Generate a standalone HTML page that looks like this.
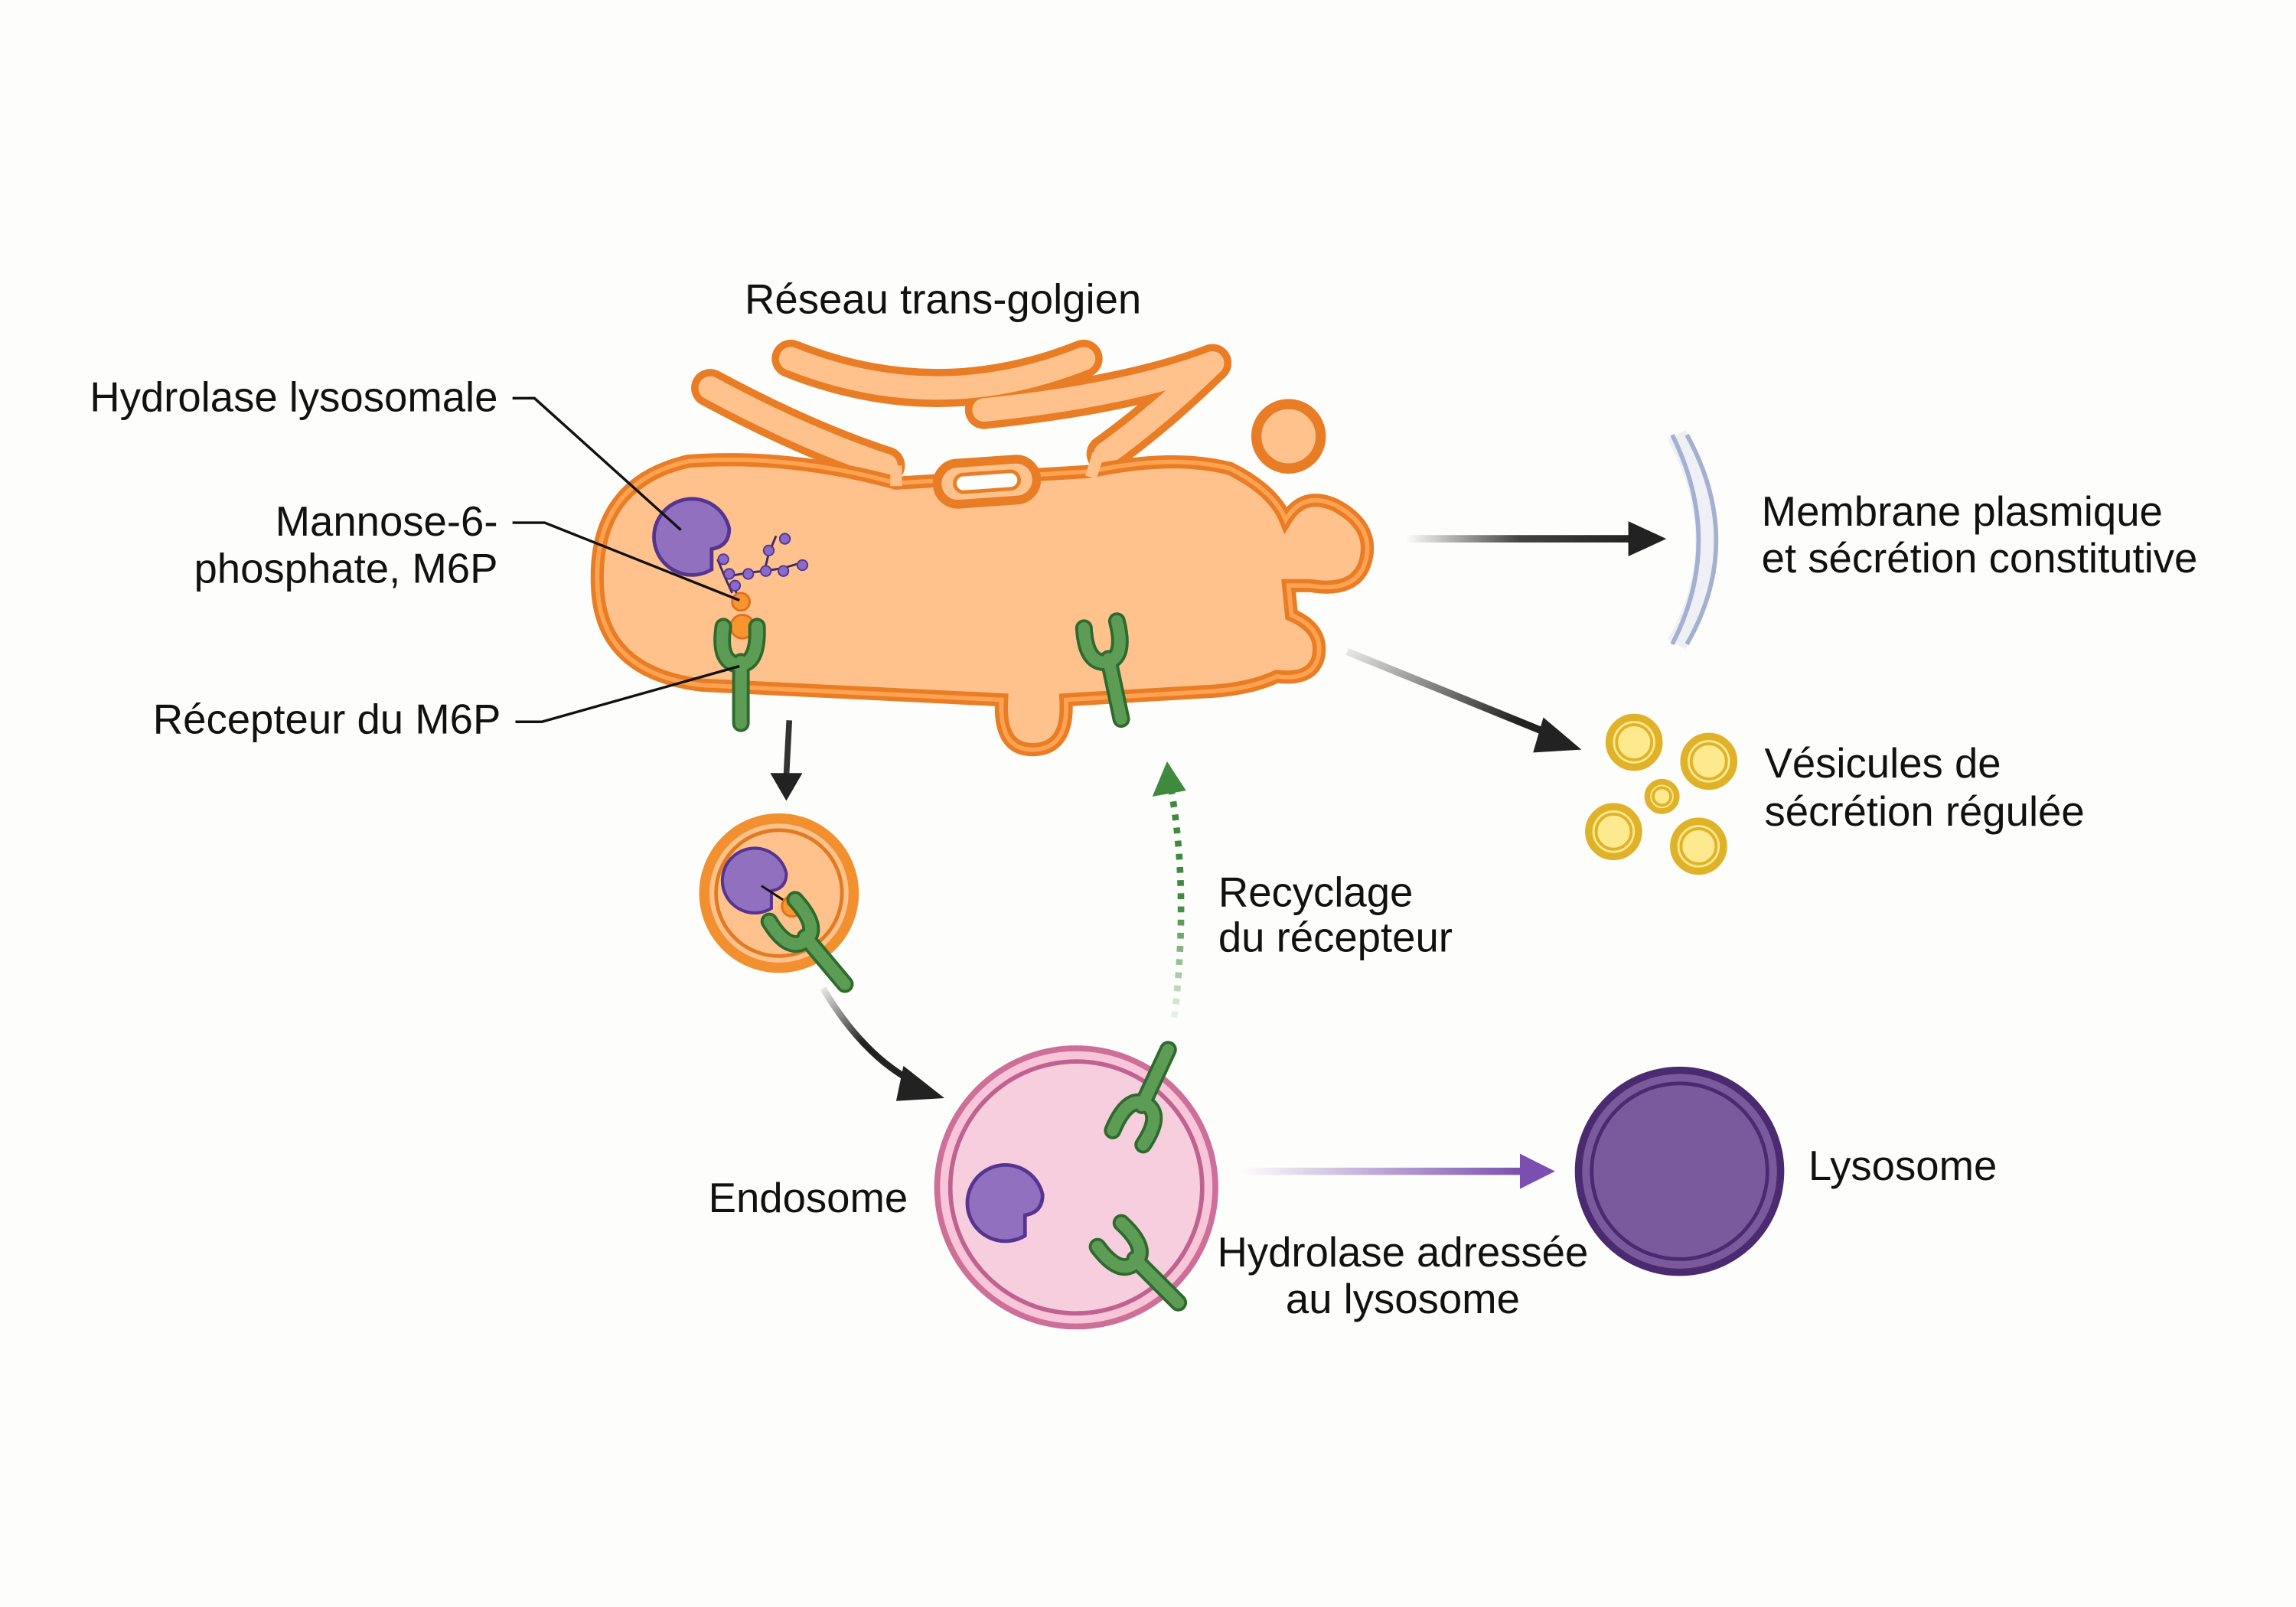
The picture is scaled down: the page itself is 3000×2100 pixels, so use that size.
<!DOCTYPE html>
<html><head><meta charset="utf-8"><style>
html,body{margin:0;padding:0;background:#fdfdfb;}
svg{display:block}
text{font-family:"Liberation Sans",sans-serif;font-size:28.5px;fill:#111}
</style></head><body>
<svg width="3000" height="2100" viewBox="0 0 1568 1097.6" preserveAspectRatio="none" xmlns="http://www.w3.org/2000/svg">
<defs>
<linearGradient id="gh" gradientUnits="userSpaceOnUse" x1="960" x2="1115" y1="0" y2="0"><stop offset="0" stop-color="#222" stop-opacity="0"/><stop offset="0.5" stop-color="#222" stop-opacity="0.85"/><stop offset="1" stop-color="#222"/></linearGradient>
<linearGradient id="gd" x1="0" x2="1" y1="0" y2="0.4"><stop offset="0" stop-color="#222" stop-opacity="0.1"/><stop offset="1" stop-color="#222"/></linearGradient>
<linearGradient id="gp" gradientUnits="userSpaceOnUse" x1="848" x2="1040" y1="0" y2="0"><stop offset="0" stop-color="#7a4fb0" stop-opacity="0"/><stop offset="1" stop-color="#7a4fb0"/></linearGradient>
<linearGradient id="gv" x1="0" x2="0" y1="1" y2="0"><stop offset="0" stop-color="#3f8a3f" stop-opacity="0.1"/><stop offset="0.5" stop-color="#3f8a3f"/><stop offset="1" stop-color="#3f8a3f"/></linearGradient>
<linearGradient id="gc" x1="0" x2="1" y1="0" y2="1"><stop offset="0" stop-color="#222" stop-opacity="0.1"/><stop offset="0.5" stop-color="#222"/><stop offset="1" stop-color="#222"/></linearGradient>
<g id="enz"><path d="M20,-4 A26 26 0 1 0 8,24 L8,10 Q20,8 20,-4 Z" fill="#9270c0" stroke="#553590" stroke-width="2.5"/></g>
<g id="rec"><path d="M0,0 L0,42 M-12,-24 Q-16,2 0,2 Q12,0 11,-24" fill="none" stroke="#2e6a2e" stroke-width="12" stroke-linecap="round"/><path d="M0,0 L0,42 M-12,-24 Q-16,2 0,2 Q12,0 11,-24" fill="none" stroke="#5c9c55" stroke-width="8" stroke-linecap="round"/></g>
</defs>
<rect width="1568" height="1098" fill="#fdfdfb"/>

<!-- Golgi cisternae -->
<g fill="none" stroke-linecap="round" stroke-linejoin="round">
<path id="c1" d="M540,245 Q640,285 740,245"/>
<path id="c2" d="M485,265 Q550,300 605,318"/>
<path id="c3" d="M672,280 Q770,270 828,248"/>
<path id="c4" d="M828,248 Q790,285 755,310"/>
<path id="c5" d="M652,328 L695,324"/>
</g>
<g fill="none" stroke-linecap="round" stroke-linejoin="round" stroke="#e87d25" stroke-width="26">
<use href="#c1"/><use href="#c2"/><use href="#c3"/><use href="#c4"/></g>
<g fill="none" stroke-linecap="round" stroke-linejoin="round" stroke="#ffc28c" stroke-width="16">
<use href="#c1"/><use href="#c2"/><use href="#c3"/><use href="#c4"/></g>

<!-- Golgi body -->
<path d="M470,315 Q540,310 612,330 L745,322 Q800,310 840,320 Q870,335 878,355 Q890,335 912,345 Q940,360 932,385 Q925,405 895,400 L880,400 L882,420 Q905,430 900,450 Q895,465 872,462 Q855,470 830,472 L728,478 Q730,512 705,512 Q682,512 684,478 L480,468 Q410,460 408,400 Q405,330 470,315 Z" fill="#ffc28c" stroke="#e87d25" stroke-width="9"/>
<path d="M470,315 Q540,310 612,330 L745,322 Q800,310 840,320 Q870,335 878,355 Q890,335 912,345 Q940,360 932,385 Q925,405 895,400 L880,400 L882,420 Q905,430 900,450 Q895,465 872,462 Q855,470 830,472 L728,478 Q730,512 705,512 Q682,512 684,478 L480,468 Q410,460 408,400 Q405,330 470,315 Z" fill="none" stroke="#ffa252" stroke-width="3"/>
<path d="M612,318 L612,332 M750,310 L745,326" stroke="#ffc28c" stroke-width="8"/>
<!-- capsule -->
<rect x="640" y="315" width="68" height="28" rx="14" fill="#ffc28c" stroke="#e87d25" stroke-width="6" transform="rotate(-4 674 329)"/>
<rect x="652" y="323" width="44" height="12" rx="6" fill="#fdfdfb" stroke="#e87d25" stroke-width="2.5" transform="rotate(-4 674 329)"/>
<circle cx="880" cy="298" r="22" fill="#ffc28c" stroke="#e87d25" stroke-width="7"/>

<!-- enzyme & chain in golgi -->
<use href="#enz" x="478" y="365"/>
<g stroke="#3a2a60" stroke-width="1.5" fill="none"><path d="M490,382 L495,394 L500,405 M495,394 L512,391 L522,390 L535,388 L545,385 M522,390 L525,378 L530,366 M500,398 L505,410"/></g>
<g fill="#8a6ac8" stroke="#553590" stroke-width="1"><circle cx="494" cy="382" r="3.5"/><circle cx="498" cy="392" r="3.5"/><circle cx="511" cy="392" r="3.5"/><circle cx="523" cy="390" r="3.5"/><circle cx="535" cy="390" r="3.5"/><circle cx="548" cy="386" r="3.5"/><circle cx="536" cy="368" r="3.5"/><circle cx="525" cy="376" r="3.5"/><circle cx="502" cy="400" r="3.5"/></g>
<circle cx="506" cy="411" r="6" fill="#f7952e" stroke="#e07020" stroke-width="1.5"/>
<circle cx="507" cy="428" r="8" fill="#f7952e" stroke="#e07020" stroke-width="1.5"/>
<use href="#rec" x="506" y="452"/>
<use href="#rec" x="757" y="450" transform="rotate(-12 757 450)"/>

<!-- leader lines -->
<g stroke="#111" stroke-width="1.8" fill="none">
<path d="M350,272 L365,272 L465,362"/>
<path d="M350,357 L372,357 L505,410"/>
<path d="M352,493 L370,493 L505,455"/>
</g>

<!-- labels -->
<text x="644" y="214" text-anchor="middle">Réseau trans-golgien</text>
<text x="340" y="281" text-anchor="end">Hydrolase lysosomale</text>
<text x="340" y="366" text-anchor="end">Mannose-6-</text>
<text x="340" y="398" text-anchor="end">phosphate, M6P</text>
<text x="342" y="501" text-anchor="end">Récepteur du M6P</text>
<text x="1203" y="359">Membrane plasmique</text>
<text x="1203" y="391">et sécrétion constitutive</text>
<text x="1205" y="531">Vésicules de</text>
<text x="1205" y="564">sécrétion régulée</text>
<text x="832" y="619">Recyclage</text>
<text x="832" y="650">du récepteur</text>
<text x="620" y="828" text-anchor="end">Endosome</text>
<text x="1235" y="806">Lysosome</text>
<text x="958" y="865" text-anchor="middle">Hydrolase adressée</text>
<text x="958" y="897" text-anchor="middle">au lysosome</text>

<!-- arrows -->
<path d="M960,368 L1115,368" stroke="url(#gh)" stroke-width="5"/>
<path d="M1112,356 L1138,368 L1112,380 Z" fill="#222"/>
<path d="M920,445 L1060,502" stroke="url(#gd)" stroke-width="5"/>
<path d="M1054,490 L1080,512 L1047,514 Z" fill="#222"/>
<path d="M539,492 L537,530" stroke="#333" stroke-width="4"/>
<path d="M526,528 L548,528 L537,547 Z" fill="#222"/>
<path d="M562,675 Q590,722 626,740" fill="none" stroke="url(#gc)" stroke-width="4.5"/>
<path d="M617,728 L645,750 L612,752 Z" fill="#222"/>
<path d="M802,695 Q812,610 800,540" fill="none" stroke="url(#gv)" stroke-width="4.5" stroke-dasharray="4,5"/>
<path d="M787,544 L797,520 L810,540 Z" fill="#3f8a3f"/>
<path d="M848,800 L1040,800" stroke="url(#gp)" stroke-width="5"/>
<path d="M1038,788 L1062,800 L1038,812 Z" fill="#7a4fb0"/>

<!-- plasma membrane -->
<path d="M1145,297 Q1185,370 1145,440" fill="none" stroke="#eef0f6" stroke-width="14"/>
<path d="M1142,297 Q1178,370 1142,440 M1152,297 Q1192,370 1152,440" fill="none" stroke="#a3b0d0" stroke-width="3"/>

<!-- secretory vesicles -->
<g fill="#fde98e" stroke="#e0b22a">
<circle cx="1116" cy="507" r="17" stroke-width="5"/>
<circle cx="1167" cy="520" r="17" stroke-width="5"/>
<circle cx="1135" cy="544" r="10" stroke-width="4"/>
<circle cx="1102" cy="568" r="17" stroke-width="5"/>
<circle cx="1160" cy="578" r="17" stroke-width="5"/>
</g>
<g fill="none" stroke="#e0b22a" stroke-width="2"><circle cx="1116" cy="507" r="12"/><circle cx="1167" cy="520" r="12"/><circle cx="1135" cy="544" r="6"/><circle cx="1102" cy="568" r="12"/><circle cx="1160" cy="578" r="12"/></g>

<!-- transport vesicle -->
<circle cx="532" cy="610" r="51" fill="#ffc28c" stroke="#f28f2f" stroke-width="7"/>
<circle cx="532" cy="610" r="43" fill="none" stroke="#e07b22" stroke-width="2.5"/>
<g transform="translate(520,600) scale(0.85)"><use href="#enz"/></g>
<path d="M520,605 L540,618" stroke="#111" stroke-width="1.5"/>
<circle cx="541" cy="619" r="7" fill="#f7952e" stroke="#e07020" stroke-width="1.5"/>
<g transform="translate(550,640) rotate(-40)"><use href="#rec"/></g>

<!-- endosome -->
<circle cx="735" cy="811" r="95" fill="#f8c6d8" stroke="#cd6f98" stroke-width="4"/>
<circle cx="735" cy="811" r="86" fill="#f7cede" stroke="#c06290" stroke-width="3"/>
<use href="#enz" x="692" y="820"/>
<g transform="translate(780,755) rotate(-155)"><use href="#rec"/></g>
<g transform="translate(775,860) rotate(-45)"><use href="#rec"/></g>

<!-- lysosome -->
<circle cx="1147" cy="800" r="69" fill="#7a5a9c" stroke="#4a2a70" stroke-width="5"/>
<circle cx="1147" cy="800" r="60" fill="none" stroke="#4a2a70" stroke-width="2.5"/>
</svg>
</body></html>
